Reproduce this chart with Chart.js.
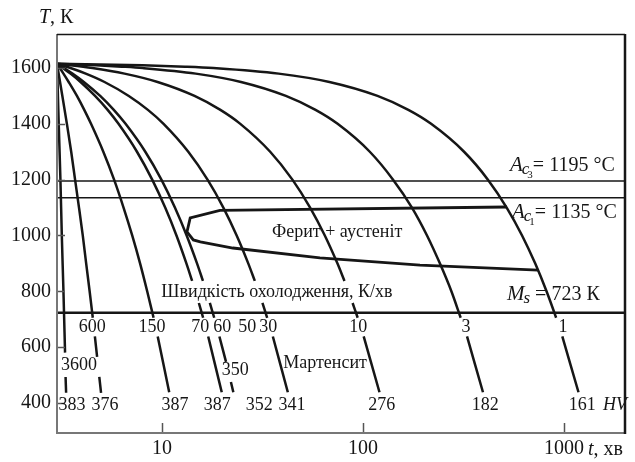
<!DOCTYPE html>
<html>
<head>
<meta charset="utf-8">
<script src="https://cdn.jsdelivr.net/npm/chart.js@4.4.1/dist/chart.umd.min.js"></script>
<style>
  html, body { margin: 0; padding: 0; background: #fff; }
</style>
</head>
<body>
<canvas id="cct" width="635" height="462"></canvas>
<script>
// tick labels
const xTicks = [10, 100, 1000];
const yTicks = [400, 600, 800, 1000, 1200, 1400, 1600];

// critical points, K
const Ac3 = 1195;
const Ac1 = 1135;
const Ms = 723;

// cooling rates (K/хв) and hardness HV under each curve
const rates = ['3600', '600', '150', '70', '60', '50', '30', '10', '3', '1'];
const hardness = ['383', '376', '387', '387', '352', '341', '276', '182', '161'];

// cooling curves: t (хв) and T (K), null = break for a label
const t3600 = [3, 3.06, 3.12, 3.17, 3.23, 3.29, 3.3, 3.31, 3.33];
const T3600 = [1615, 1400, 1200, 1000, 800, 580, null, 493, 436];

const t600 = [3, 3.19, 3.36, 3.53, 3.69, 3.86, 4.03, 4.19, 4.36, 4.52, 4.58, 4.63, 4.75, 4.8, 4.87, 4.97];
const T600 = [1615, 1500, 1400, 1300, 1200, 1100, 1000, 900, 800, 705, null, 638, 565, null, 493, 436];

const t150 = [3, 3.1, 3.23, 3.43, 3.77, 4.1, 4.43, 5.1, 5.77, 6.43, 7.1, 7.77, 8.43, 9.07, 9.3, 9.51, 10.85];
const T150 = [1615, 1600, 1580, 1550, 1500, 1450, 1400, 1300, 1200, 1100, 1000, 900, 800, 705, null, 638, 438];

const t70 = [3, 3.21, 3.5, 3.93, 4.64, 5.36, 6.07, 7.5, 8.93, 10.36, 11.79, 13.21, 14.11, 14.6, 15.24, 16.0, 16.5, 16.96, 19.81];
const T70 = [1615, 1600, 1580, 1550, 1500, 1450, 1400, 1300, 1200, 1100, 1000, 900, 837, null, 758, 705, null, 638, 438];

const t60 = [3, 3.25, 3.58, 4.08, 4.92, 5.75, 6.58, 8.25, 9.92, 11.58, 13.25, 14.92, 15.97, 16.5, 17.28, 18.17, 18.7, 19.28, 20.8, 21.5, 22.0, 22.62];
const T60 = [1615, 1600, 1580, 1550, 1500, 1450, 1400, 1300, 1200, 1100, 1000, 900, 837, null, 758, 705, null, 638, 547, null, 475, 438];

const t30 = [3, 3.5, 4.17, 5.17, 6.83, 8.5, 10.17, 13.5, 16.83, 20.17, 23.5, 26.83, 28.93, 30, 31.57, 33.33, 34, 35.57, 42.23];
const T30 = [1615, 1600, 1580, 1550, 1500, 1450, 1400, 1300, 1200, 1100, 1000, 900, 837, null, 758, 705, null, 638, 438];

const t10 = [3, 3.5, 4.5, 6.5, 9.5, 14.5, 19.5, 24.5, 34.5, 44.5, 54.5, 64.5, 74.5, 80.8, 85, 88.7, 94, 97, 100.7, 120.7];
const T10 = [1615, 1610, 1600, 1580, 1550, 1500, 1450, 1400, 1300, 1200, 1100, 1000, 900, 837, null, 758, 705, null, 638, 438];

const t3 = [3, 4.7, 6.3, 8, 14.7, 24.7, 41.3, 58, 74.7, 108, 141, 175, 208, 241, 275, 306, 315, 329, 395];
const T3 = [1615, 1610, 1605, 1600, 1580, 1550, 1500, 1450, 1400, 1300, 1200, 1100, 1000, 900, 800, 705, null, 638, 438];

const t1 = [3, 8, 13, 18, 38, 68, 118, 168, 218, 318, 418, 518, 618, 718, 818, 895, 913, 930, 980, 1180];
const T1 = [1615, 1610, 1605, 1600, 1580, 1550, 1500, 1450, 1400, 1300, 1200, 1100, 1000, 900, 800, 723, 705, null, 638, 438];

// boundary of the ferrite + austenite region
const tFer = [520, 19.4, 13.8, 13.3, 14.3, 15.5, 22.5, 61, 192, 743];
const TFer = [1102, 1090, 1063, 1013, 984, 977, 955, 920, 894, 876];

const serif = "'Liberation Serif', 'DejaVu Serif', serif";
const ink = '#161616';

function pts(t, T) {
  return t.map((v, i) => ({ x: v, y: T[i] }));
}

function curve(t, T) {
  return {
    data: pts(t, T),
    borderColor: ink,
    borderWidth: 2.5,
    pointRadius: 0,
    cubicInterpolationMode: 'monotone',
    spanGaps: false,
    fill: false
  };
}

function level(T, w) {
  return {
    data: [{ x: 3, y: T }, { x: 2010, y: T }],
    borderColor: ink,
    borderWidth: w,
    pointRadius: 0,
    fill: false
  };
}

// text positions in data units (t, T)
const rateAt = [[3.86, 536], [4.49, 672], [8.9, 672], [15.5, 672], [19.9, 672], [26.5, 672], [33.7, 672], [94.5, 672], [325, 672], [988, 672]];
const hvAt = [3.56, 5.2, 11.6, 18.8, 30.4, 44.3, 124, 405, 1231];

const frame = {
  id: 'frame',
  afterDatasetsDraw(chart) {
    const { ctx, chartArea: a } = chart;
    const xs = chart.scales.x, ys = chart.scales.y;
    ctx.save();
    ctx.lineCap = 'butt';
    // inward ticks
    ctx.strokeStyle = '#555';
    ctx.lineWidth = 1.5;
    yTicks.forEach(v => {
      const y = Math.round(ys.getPixelForValue(v)) + 0.5;
      ctx.beginPath(); ctx.moveTo(a.left, y); ctx.lineTo(a.left + 8, y); ctx.stroke();
    });
    xTicks.forEach(v => {
      const x = Math.round(xs.getPixelForValue(v)) + 0.5;
      ctx.beginPath(); ctx.moveTo(x, a.bottom); ctx.lineTo(x, a.bottom - 10); ctx.stroke();
    });
    // box
    ctx.strokeStyle = '#777';
    ctx.lineWidth = 2;
    ctx.beginPath(); ctx.moveTo(a.left, a.top); ctx.lineTo(a.left, a.bottom); ctx.lineTo(a.right, a.bottom); ctx.stroke();
    ctx.strokeStyle = ink;
    ctx.lineWidth = 1.3;
    ctx.beginPath(); ctx.moveTo(a.left, a.top + 0.5); ctx.lineTo(a.right, a.top + 0.5); ctx.stroke();
    ctx.lineWidth = 2.5;
    ctx.beginPath(); ctx.moveTo(a.right, a.top); ctx.lineTo(a.right, a.bottom + 1); ctx.stroke();
    ctx.restore();
  }
};

const labels = {
  id: 'labels',
  afterDraw(chart) {
    const { ctx } = chart;
    const xs = chart.scales.x, ys = chart.scales.y;
    const px = t => xs.getPixelForValue(t);
    const py = T => ys.getPixelForValue(T);
    ctx.save();
    ctx.fillStyle = ink;
    ctx.textBaseline = 'middle';
    ctx.textAlign = 'center';

    ctx.font = '18px ' + serif;
    rates.forEach((r, i) => ctx.fillText(r, px(rateAt[i][0]), py(rateAt[i][1])));
    ctx.fillText('350', px(23.1), py(518));
    hardness.forEach((h, i) => ctx.fillText(h, px(hvAt[i]), py(393)));
    ctx.fillText('Ферит + аустеніт', px(74.3), py(1013));
    ctx.fillText('Швидкість охолодження, К/хв', px(37.3), py(798));
    ctx.fillText('Мартенсит', px(64.7), py(543));
    ctx.font = 'italic 18px ' + serif;
    ctx.fillText('HV', px(1794), py(393));

    // axis names
    ctx.textAlign = 'left';
    ctx.textBaseline = 'alphabetic';
    let x = 39;
    ctx.font = 'italic 20px ' + serif;
    ctx.fillText('T', x, 23);
    x += ctx.measureText('T').width;
    ctx.font = '20px ' + serif;
    ctx.fillText(', К', x, 23);

    x = 588;
    ctx.font = 'italic 20px ' + serif;
    ctx.fillText('t', x, 455);
    x += ctx.measureText('t').width;
    ctx.font = '20px ' + serif;
    ctx.fillText(', хв', x, 455);

    // critical points
    function crit(xl, base, sub, subsub, rest) {
      let cx = xl;
      ctx.font = 'italic 21px ' + serif;
      ctx.fillText(sub[0], cx, base);
      cx += ctx.measureText(sub[0]).width - 1;
      ctx.font = 'italic 17px ' + serif;
      ctx.fillText(sub[1], cx, base + 3);
      cx += ctx.measureText(sub[1]).width;
      if (subsub) {
        ctx.font = '11px ' + serif;
        ctx.fillText(subsub, cx - 2, base + 7);
        cx += ctx.measureText(subsub).width - 2;
      }
      ctx.font = '20px ' + serif;
      ctx.fillText(rest, cx, base);
    }
    crit(510, py(Ac3) - 10, 'Ac', '3', '= 1195 °C');
    crit(512, py(Ac1) + 20, 'Ac', '1', '= 1135 °C');
    crit(507, py(Ms) - 13, 'Ms', '', ' = 723 К');
    ctx.restore();
  }
};

new Chart(document.getElementById('cct'), {
  type: 'line',
  data: {
    datasets: [
      level(Ac3, 1.6),
      level(Ac1, 1.6),
      level(Ms, 2.4),
      curve(t3600, T3600),
      curve(t600, T600),
      curve(t150, T150),
      curve(t70, T70),
      curve(t60, T60),
      curve(t30, T30),
      curve(t10, T10),
      curve(t3, T3),
      curve(t1, T1),
      {
        data: pts(tFer, TFer),
        borderColor: ink,
        borderWidth: 2.8,
        pointRadius: 0,
        tension: 0,
        fill: false
      }
    ]
  },
  options: {
    responsive: false,
    animation: false,
    devicePixelRatio: 1,
    layout: { padding: { top: 34, right: 10, left: 0, bottom: 0 } },
    plugins: { legend: { display: false }, tooltip: { enabled: false } },
    scales: {
      x: {
        type: 'logarithmic',
        min: 3,
        max: 2010,
        grid: { display: false, drawTicks: false },
        border: { display: false },
        afterBuildTicks: s => { s.ticks = xTicks.map(v => ({ value: v })); },
        afterFit: s => { s.height = 29; },
        ticks: {
          color: ink,
          padding: 4,
          maxRotation: 0,
          autoSkip: false,
          font: { family: serif, size: 20 },
          callback: v => String(v)
        }
      },
      y: {
        type: 'linear',
        min: 292,
        max: 1722,
        grid: { display: false, drawTicks: false },
        border: { display: false },
        afterBuildTicks: s => { s.ticks = yTicks.map(v => ({ value: v })); },
        afterFit: s => { s.width = 57; },
        ticks: {
          color: ink,
          padding: 6,
          font: { family: serif, size: 20 },
          callback: v => String(v)
        }
      }
    }
  },
  plugins: [frame, labels]
});
</script>
</body>
</html>
